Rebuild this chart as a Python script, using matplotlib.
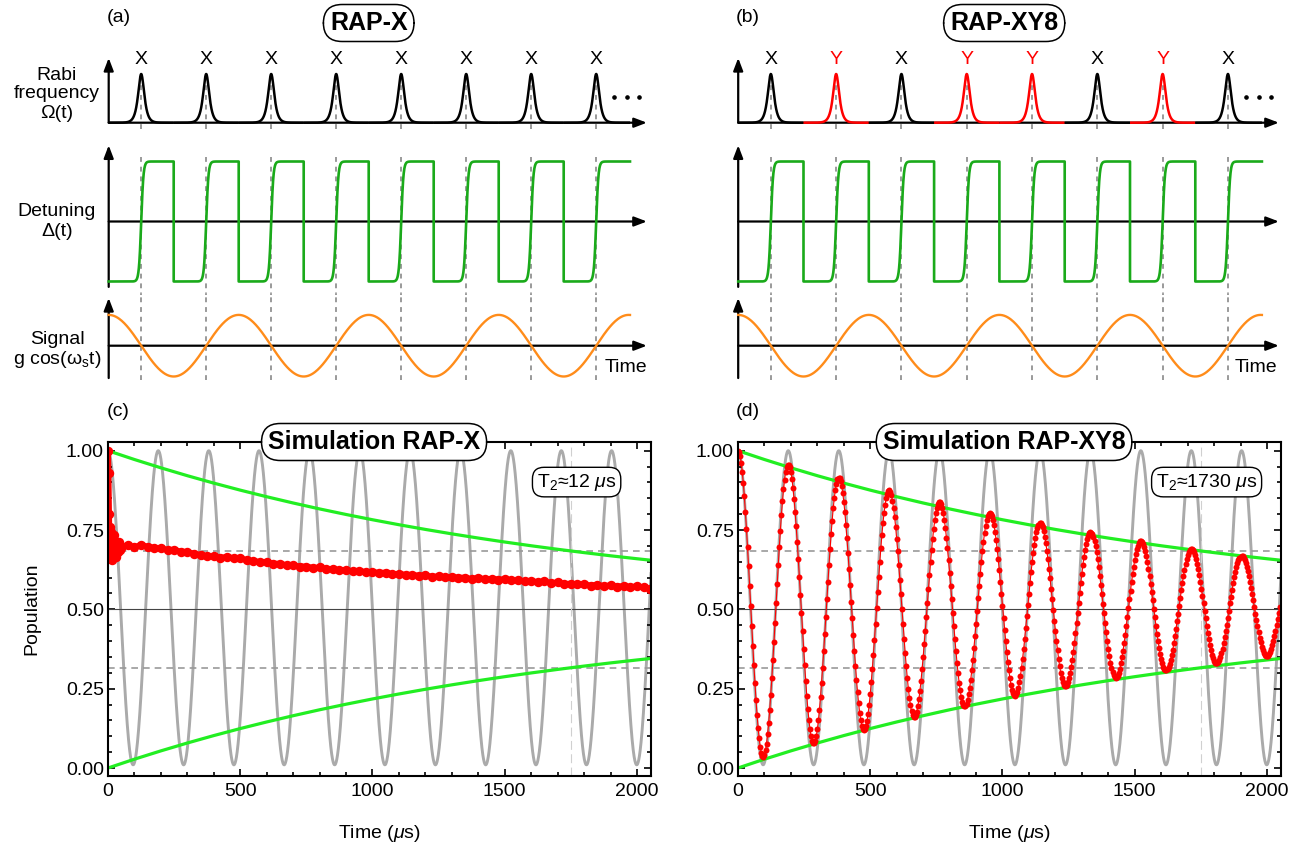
import numpy as np
import matplotlib.pyplot as plt
from matplotlib.ticker import MultipleLocator, FormatStrFormatter

plt.rcParams['font.family'] = ['Liberation Sans', 'DejaVu Sans']
plt.rcParams['mathtext.fontset'] = 'custom'
plt.rcParams['mathtext.rm'] = 'Liberation Sans'
plt.rcParams['mathtext.it'] = 'Liberation Sans:italic'
plt.rcParams['mathtext.bf'] = 'Liberation Sans:bold'

FS = 14      # regular text
FS_T = 18    # boxed titles

# ---- pulse sequences (time in units of the pulse spacing) ----
pulse_centers = [0.5, 1.5, 2.5, 3.5, 4.5, 5.5, 6.5, 7.5]
labels_rapx = ['X', 'X', 'X', 'X', 'X', 'X', 'X', 'X']
labels_xy8 = ['X', 'Y', 'X', 'Y', 'Y', 'X', 'Y', 'X']
pulse_width = 0.042
sweep_width = 0.035
seq_end = 8.02

# ---- population curves (time in us) ----
osc_peak_t = [0, 190, 381, 571, 762, 952, 1142, 1333, 1523, 1714, 1904, 2094]
osc_trough_t = [95, 286, 476, 666, 857, 1047, 1238, 1428, 1618, 1809, 1999]
osc_peak_v = [1.0] * 12
osc_trough_v = [0.01] * 11

# XY8 population at the oscillation extremes
xy8_peak_v = [1.0, 0.957, 0.915, 0.875, 0.838, 0.804, 0.772, 0.743, 0.715, 0.690, 0.668, 0.647]
xy8_trough_v = [0.035, 0.078, 0.120, 0.160, 0.195, 0.228, 0.257, 0.284, 0.308, 0.330, 0.352]
xy8_step = 4

# RAP-X population
rapx_t = [0, 2, 4, 6, 8, 10, 12, 14, 16, 19, 22, 25, 28, 31, 34, 37, 40, 44, 47,
          50, 75, 100, 125, 150, 175, 200, 225, 250, 275, 300, 325, 350, 375, 400,
          425, 450, 475, 500, 525, 550, 575, 600, 625, 650, 675, 700, 725, 750, 775,
          800, 825, 850, 875, 900, 925, 950, 975, 1000, 1025, 1050, 1075, 1100, 1125,
          1150, 1175, 1200, 1225, 1250, 1275, 1300, 1325, 1350, 1375, 1400, 1425,
          1450, 1475, 1500, 1525, 1550, 1575, 1600, 1625, 1650, 1675, 1700, 1725,
          1750, 1775, 1800, 1825, 1850, 1875, 1900, 1925, 1950, 1975, 2000, 2025, 2050]
rapx_v = [1.0, 0.93, 0.80, 0.71, 0.76, 0.66, 0.745, 0.655, 0.725, 0.685, 0.735, 0.675, 0.715,
          0.665, 0.705, 0.68, 0.712, 0.688, 0.703,
          0.694, 0.703, 0.695, 0.704, 0.697, 0.694, 0.693, 0.687, 0.688, 0.682, 0.681,
          0.675, 0.672, 0.667, 0.667, 0.662, 0.666, 0.661, 0.662, 0.654, 0.653, 0.649,
          0.649, 0.644, 0.644, 0.639, 0.639, 0.635, 0.635, 0.631, 0.632, 0.627, 0.627,
          0.624, 0.624, 0.620, 0.621, 0.618, 0.618, 0.615, 0.616, 0.611, 0.612, 0.609,
          0.609, 0.606, 0.607, 0.603, 0.604, 0.601, 0.601, 0.600, 0.600, 0.596, 0.599,
          0.595, 0.596, 0.594, 0.595, 0.591, 0.591, 0.589, 0.589, 0.586, 0.588, 0.583,
          0.585, 0.580, 0.581, 0.579, 0.579, 0.575, 0.578, 0.573, 0.576, 0.572, 0.574,
          0.570, 0.573, 0.569, 0.565]

# T2 = 1750 us decay envelope
env_t = [0, 100, 200, 300, 400, 500, 600, 700, 800, 900, 1000, 1100, 1200, 1300,
         1400, 1500, 1600, 1700, 1800, 1900, 2000, 2050]
env_upper = [1.000, 0.9722, 0.9460, 0.9212, 0.8978, 0.8757, 0.8549, 0.8352, 0.8165,
             0.7990, 0.7824, 0.7667, 0.7519, 0.7379, 0.7247, 0.7122, 0.7004, 0.6893,
             0.6788, 0.6688, 0.6595, 0.6550]
env_level_hi, env_level_lo = 0.684, 0.316
t2_marker = 1750

W, H = 1306, 851
fig = plt.figure(figsize=(W / 100, H / 100), dpi=100)


def px_axes(left, top, right, bottom):
    return fig.add_axes([left / W, 1 - bottom / H, (right - left) / W, (bottom - top) / H])


def ftext(x, y, s, **kw):
    fig.text(x / W, 1 - y / H, s, **kw)


def half_cosine(t_ext, v_ext, t):
    t_ext = np.asarray(t_ext, float)
    v_ext = np.asarray(v_ext, float)
    i = np.clip(np.searchsorted(t_ext, t, side='right') - 1, 0, len(t_ext) - 2)
    s = (t - t_ext[i]) / (t_ext[i + 1] - t_ext[i])
    return v_ext[i] + (v_ext[i + 1] - v_ext[i]) * (1 - np.cos(np.pi * s)) / 2


def interleave(a, b):
    out = []
    for i in range(len(a)):
        out.append(a[i])
        if i < len(b):
            out.append(b[i])
    return out


ARROW = dict(arrowstyle='-|>,head_length=0.42,head_width=0.16', color='k', lw=1.6,
             mutation_scale=18, shrinkA=0, shrinkB=0)
DASH = dict(color='#9a9a9a', lw=1.4, ls=(0, (2.5, 2.5)))


def row_axes(x0, tau, y0, scale, top, bottom):
    left, right = x0 - 12, x0 + 8.6 * tau
    ax = px_axes(left, top, right, bottom)
    ax.set_xlim(-12 / tau, 8.6)
    ax.set_ylim((y0 - bottom) / scale, (y0 - top) / scale)
    ax.axis('off')
    return ax


def arrows(ax, ybot, ytop, xend=8.28):
    ax.annotate('', xy=(xend, 0), xytext=(0, 0), arrowprops=ARROW)
    ax.annotate('', xy=(0, ytop), xytext=(0, ybot), arrowprops=ARROW)


def schematic(col, labels, title, tag):
    x0 = 108.7 + 629.5 * col
    tau = 65.0 if col == 0 else 65.3
    last = len(pulse_centers) - 1

    # Rabi frequency
    ax = row_axes(x0, tau, 122.7, 48.7, 40, 135)
    arrows(ax, 0, 1.33)
    for k, (tc, lab) in enumerate(zip(pulse_centers, labels)):
        t0 = 0 if k == 0 else tc - 0.5
        t1 = seq_end if k == last else tc + 0.5
        t = np.linspace(t0, t1, 400)
        c = 'red' if lab == 'Y' else 'black'
        ax.plot(t, 1 / np.cosh((t - tc) / pulse_width), color=c, lw=1.8, zorder=3,
                solid_capstyle='butt')
        ax.plot([tc, tc], [-0.12, 0.88], zorder=2, **DASH)
        ax.text(tc, 1.29, lab, ha='center', va='center', fontsize=FS, color=c)
    ax.plot([7.78, 7.97, 8.16], [0.53] * 3, 'o', color='k', ms=2.3)

    # detuning
    ax = row_axes(x0, tau, 221.5, 60.0, 138, 296)
    arrows(ax, -1.09, 1.27)
    tt, vv = [], []
    for k, tc in enumerate(pulse_centers):
        t0 = 0 if k == 0 else tc - 0.5
        t1 = seq_end if k == last else tc + 0.5
        t = np.linspace(t0, t1, 400)
        tt.append(t)
        vv.append(np.tanh((t - tc) / sweep_width))
        ax.plot([tc, tc], [1.08, -1.22], zorder=1, **DASH)
    ax.plot(np.concatenate(tt), np.concatenate(vv), color='#1aaa1a', lw=1.9, zorder=3)

    # signal
    ax = row_axes(x0, tau, 345.7, 30.8, 290, 385)
    arrows(ax, -1.05, 1.55)
    for tc in pulse_centers:
        ax.plot([tc, tc], [-1.1, 1.75], zorder=1, **DASH)
    t = np.linspace(0, seq_end, 600)
    ax.plot(t, np.cos(np.pi * t), color='#ff8c1a', lw=1.7, zorder=3)

    ftext(x0 + 517.3, 368, 'Time', ha='center', va='center', fontsize=FS)
    ftext(x0 + 10, 18, tag, ha='center', va='center', fontsize=FS)
    ftext(x0 + 260 + (col * 6), 23, title, ha='center', va='center', fontsize=FS_T,
          fontweight='bold',
          bbox=dict(boxstyle='round,pad=0.26,rounding_size=0.75', fc='white', ec='k', lw=1.1))


schematic(0, labels_rapx, 'RAP-X', '(a)')
schematic(1, labels_xy8, 'RAP-XY8', '(b)')

for s, y in [('Rabi', 76), ('frequency', 94), ('Ω(t)', 113), ('Detuning', 212),
             ('Δ(t)', 231), ('Signal', 340), (r'g cos(ω$_\mathrm{s}$t)', 359)]:
    ftext(57, y, s, ha='center', va='center', fontsize=FS)

# ---- population panels ----
t_osc = np.linspace(0, 2060, 3000)
osc = half_cosine(interleave(osc_peak_t, osc_trough_t),
                  interleave(osc_peak_v, osc_trough_v), t_osc)
t_xy8 = np.arange(0, 2051, xy8_step)
xy8 = half_cosine(interleave(osc_peak_t, osc_trough_t),
                  interleave(xy8_peak_v, xy8_trough_v), t_xy8)
env_lower = [1 - v for v in env_upper]


def population_panel(col, tag, title, t2_text):
    left = 108 + 630 * col
    ax = px_axes(left, 442, left + 543, 776)
    ax.set_xlim(0, 2053)
    ax.set_ylim(-0.0252, 1.0274)
    ax.plot(t_osc, osc, color='#aaaaaa', lw=2.1, zorder=1)
    ax.axhline(0.5, color='#444444', lw=0.8, zorder=2)
    for lv in (env_level_hi, env_level_lo):
        ax.axhline(lv, color='#999999', lw=1.2, ls=(0, (4, 3)), zorder=2)
    ax.axvline(t2_marker, color='#d0d0d0', lw=0.8, ls=(0, (8, 4)), zorder=2)
    ax.plot(env_t, env_upper, color='#22ee22', lw=2.3, zorder=3)
    ax.plot(env_t, env_lower, color='#22ee22', lw=2.3, zorder=3)
    if col == 0:
        ax.plot(rapx_t, rapx_v, color='red', lw=4.2, marker='o', ms=6.8, mew=0, zorder=4)
    else:
        ax.plot(t_xy8, xy8, color='red', lw=0.8, marker='o', ms=4.3, mew=0, zorder=4)

    ax.xaxis.set_major_locator(MultipleLocator(500))
    ax.xaxis.set_minor_locator(MultipleLocator(100))
    ax.yaxis.set_major_locator(MultipleLocator(0.25))
    ax.yaxis.set_minor_locator(MultipleLocator(0.05))
    ax.yaxis.set_major_formatter(FormatStrFormatter('%.2f'))
    ax.tick_params(which='both', direction='in', top=True, right=True, width=1.2,
                   labelsize=FS, colors='k')
    ax.tick_params(which='major', length=5)
    ax.tick_params(which='minor', length=3)
    ax.tick_params(axis='x', pad=5)
    ax.tick_params(axis='y', pad=3)
    for sp in ax.spines.values():
        sp.set_linewidth(1.5)
        sp.set_zorder(5)

    ax.text(0.49, 1.0, title, transform=ax.transAxes, ha='center', va='center',
            fontsize=FS_T, fontweight='bold', zorder=10,
            bbox=dict(boxstyle='round,pad=0.26,rounding_size=0.75', fc='white', ec='k', lw=1.1))
    ax.text(0.863, 0.88, t2_text, transform=ax.transAxes, ha='center', va='center',
            fontsize=FS, zorder=10,
            bbox=dict(boxstyle='round,pad=0.22,rounding_size=0.6', fc='white', ec='k', lw=1.0))
    ftext(left + 271, 833, r'Time ($\mu$s)', ha='center', va='center', fontsize=FS)
    ftext(left + 10, 412, tag, ha='center', va='center', fontsize=FS)
    return ax


population_panel(0, '(c)', 'Simulation RAP-X', r'T$_2$≈12 $\mu$s')
population_panel(1, '(d)', 'Simulation RAP-XY8', r'T$_2$≈1730 $\mu$s')
ftext(32, 609, 'Population', ha='center', va='center', rotation=90, fontsize=FS)

fig.savefig('out.png', dpi=100)
